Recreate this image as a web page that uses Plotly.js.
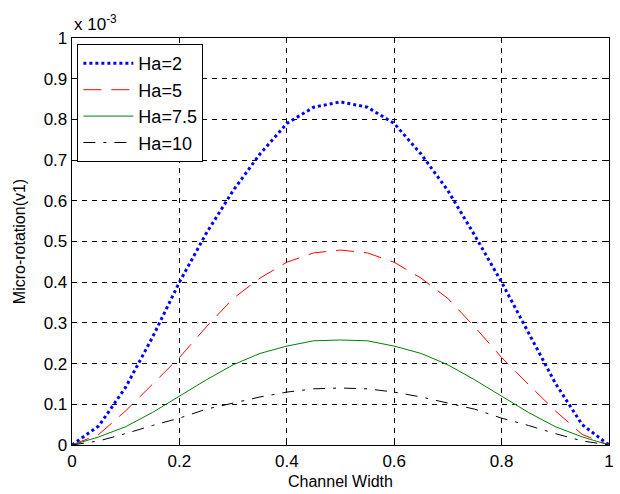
<!DOCTYPE html>
<html>
<head>
<meta charset="utf-8">
<script src="https://cdn.plot.ly/plotly-3.0.1.min.js"></script>
<style>html,body{margin:0;padding:0;background:#fff;}#chart{width:620px;height:494px;}</style>
</head>
<body>
<div id="chart"></div>
<script>
// channel width positions
const xs = [0, 0.05, 0.1, 0.15, 0.2, 0.25, 0.3, 0.35, 0.4, 0.45, 0.5, 0.55, 0.6, 0.65, 0.7, 0.75, 0.8, 0.85, 0.9, 0.95, 1];
// micro-rotation values in units of 1e-3
const ha2 = [0, 0.047, 0.142, 0.265, 0.40, 0.52, 0.625, 0.715, 0.79, 0.83, 0.843, 0.83, 0.79, 0.715, 0.625, 0.515, 0.40, 0.275, 0.152, 0.05, 0];
const ha5 = [0, 0.026, 0.084, 0.149, 0.215, 0.29, 0.36, 0.41, 0.449, 0.472, 0.479, 0.472, 0.449, 0.41, 0.36, 0.29, 0.215, 0.149, 0.084, 0.026, 0];
const ha75 = [0, 0.02, 0.045, 0.08, 0.12, 0.16, 0.197, 0.225, 0.243, 0.256, 0.258, 0.256, 0.243, 0.225, 0.197, 0.16, 0.12, 0.08, 0.045, 0.02, 0];
const ha10 = [0, 0.01, 0.028, 0.048, 0.066, 0.088, 0.103, 0.118, 0.13, 0.138, 0.14, 0.138, 0.13, 0.118, 0.103, 0.088, 0.066, 0.048, 0.028, 0.01, 0];
const names = ["Ha=2", "Ha=5", "Ha=7.5", "Ha=10"];
const xTicks = [0, 0.2, 0.4, 0.6, 0.8, 1];
const xTickText = ["0", "0.2", "0.4", "0.6", "0.8", "1"];
const yTicks = [0, 0.1, 0.2, 0.3, 0.4, 0.5, 0.6, 0.7, 0.8, 0.9, 1];
const yTickText = ["0", "0.1", "0.2", "0.3", "0.4", "0.5", "0.6", "0.7", "0.8", "0.9", "1"];

const font = "Liberation Sans, Arial, Helvetica, sans-serif";
const traces = [
  {x: xs, y: ha2, name: names[0], mode: "lines", line: {color: "#0000ff", width: 3, dash: "dot"}},
  {x: xs, y: ha5, name: names[1], mode: "lines", line: {color: "#ff0000", width: 1, dash: "18px,10px"}},
  {x: xs, y: ha75, name: names[2], mode: "lines", line: {color: "#008000", width: 1}},
  {x: xs, y: ha10, name: names[3], mode: "lines", line: {color: "#000000", width: 1, dash: "12px,8px,3px,8px"}}
];
const axisCommon = {
  showline: true, linecolor: "#000", linewidth: 1.3, mirror: "ticks",
  ticks: "inside", ticklen: 5, tickcolor: "#000", tickwidth: 1,
  showgrid: true, gridcolor: "#000", gridwidth: 1, griddash: "5px,5px",
  zeroline: false, tickfont: {family: font, size: 17, color: "#000"}
};
const layout = {
  width: 620, height: 494,
  margin: {l: 72, r: 11, t: 38, b: 49},
  paper_bgcolor: "#fff", plot_bgcolor: "#fff",
  font: {family: font, color: "#000"},
  xaxis: Object.assign({}, axisCommon, {range: [0, 1], tickvals: xTicks, ticktext: xTickText,
    title: {text: "Channel Width", font: {family: font, size: 16}, standoff: 6}}),
  yaxis: Object.assign({}, axisCommon, {range: [0, 1], tickvals: yTicks, ticktext: yTickText,
    title: {text: "Micro-rotation(v1)", font: {family: font, size: 16}, standoff: 14}}),
  showlegend: true,
  legend: {x: 0.01, y: 0.985, xanchor: "left", yanchor: "top", bgcolor: "#fff",
    bordercolor: "#000", borderwidth: 1, font: {family: font, size: 18, color: "#000"},
    tracegroupgap: 0, itemwidth: 50},
  annotations: [{xref: "paper", yref: "paper", x: 0.0, y: 1.0, xanchor: "left", yanchor: "bottom",
    yshift: 2, showarrow: false, text: "x 10<sup>-3</sup>", font: {family: font, size: 17, color: "#000"}}]
};
Plotly.newPlot("chart", traces, layout, {displayModeBar: false, staticPlot: true});
</script>
</body>
</html>
